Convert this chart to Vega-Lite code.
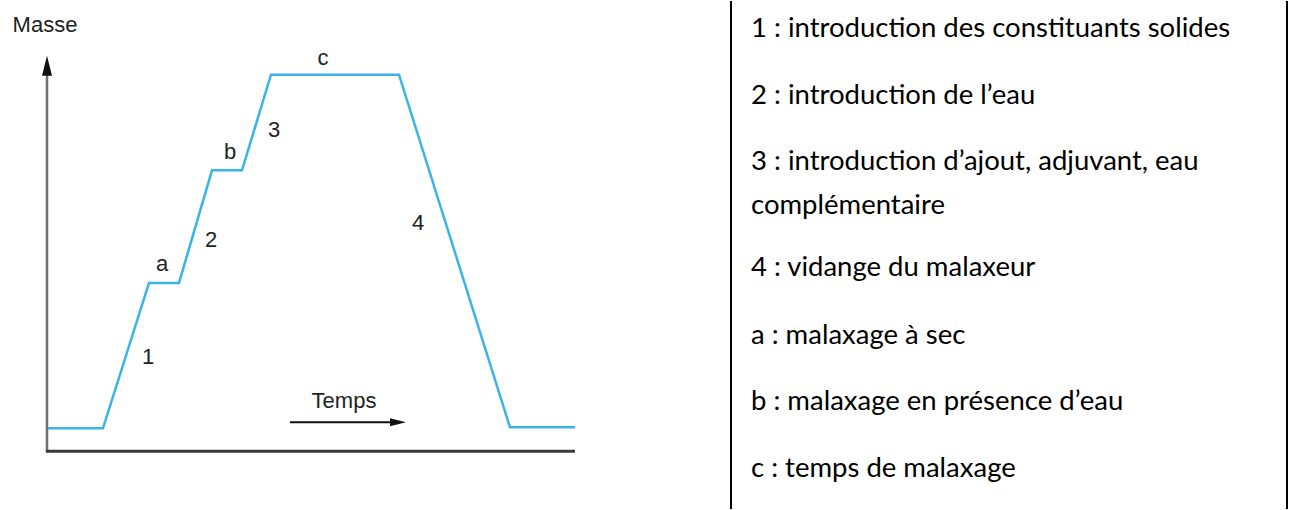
{
  "$schema": "https://vega.github.io/schema/vega-lite/v6.json",
  "autosize": {"type": "fit", "contains": "padding"},
  "width": 1292,
  "height": 510,
  "padding": 0,
  "background": "white",
  "config": {"view": {"stroke": null}},
  "datasets": {
    "courbe": [
      {"temps": 48, "masse": 81},
      {"temps": 103, "masse": 81},
      {"temps": 149, "masse": 227},
      {"temps": 179, "masse": 227},
      {"temps": 212, "masse": 340},
      {"temps": 242, "masse": 340},
      {"temps": 271, "masse": 436},
      {"temps": 399, "masse": 436},
      {"temps": 510, "masse": 82},
      {"temps": 575, "masse": 82}
    ],
    "axes": [
      {"axe": "masse", "t1": 47, "t2": 47, "m1": 57, "m2": 445, "couleur": "#707070", "epaisseur": 2.5},
      {"axe": "temps", "t1": 46, "t2": 575, "m1": 58, "m2": 58, "couleur": "#3a3a3a", "epaisseur": 3},
      {"axe": "fleche", "t1": 290, "t2": 394, "m1": 87, "m2": 87, "couleur": "#111111", "epaisseur": 2},
      {"axe": "cadre gauche", "t1": 731, "t2": 731, "m1": 0, "m2": 510, "couleur": "#000000", "epaisseur": 2},
      {"axe": "cadre droit", "t1": 1287, "t2": 1287, "m1": 0, "m2": 510, "couleur": "#000000", "epaisseur": 2}
    ],
    "pointes": [
      {"pointe": "haut", "temps": 47, "masse": 445},
      {"pointe": "droite", "temps": 398, "masse": 87}
    ],
    "etiquettes": [
      {"texte": "Masse", "temps": 45, "masse": 486},
      {"texte": "Temps", "temps": 344, "masse": 108},
      {"texte": "1", "temps": 148, "masse": 153},
      {"texte": "a", "temps": 162, "masse": 246},
      {"texte": "2", "temps": 211, "masse": 270},
      {"texte": "b", "temps": 230, "masse": 358},
      {"texte": "3", "temps": 274, "masse": 380},
      {"texte": "c", "temps": 323, "masse": 453},
      {"texte": "4", "temps": 418, "masse": 287}
    ],
    "legende": [
      {"ligne": "1 : introduction des constituants solides", "temps": 751, "masse": 482},
      {"ligne": "2 : introduction de l’eau", "temps": 751, "masse": 415},
      {"ligne": "3 : introduction d’ajout, adjuvant, eau", "temps": 751, "masse": 348},
      {"ligne": "complémentaire", "temps": 751, "masse": 304},
      {"ligne": "4 : vidange du malaxeur", "temps": 751, "masse": 242},
      {"ligne": "a : malaxage à sec", "temps": 751, "masse": 174},
      {"ligne": "b : malaxage en présence d’eau", "temps": 751, "masse": 107},
      {"ligne": "c : temps de malaxage", "temps": 751, "masse": 40}
    ]
  },
  "layer": [
    {
      "data": {"name": "axes"},
      "mark": {"type": "rule"},
      "encoding": {
        "x": {"field": "t1", "type": "quantitative", "scale": {"domain": [0, 1292], "nice": false, "zero": false}, "axis": null},
        "x2": {"field": "t2"},
        "y": {"field": "m1", "type": "quantitative", "scale": {"domain": [0, 510], "nice": false, "zero": false}, "axis": null},
        "y2": {"field": "m2"},
        "color": {"field": "couleur", "type": "nominal", "scale": null, "legend": null},
        "strokeWidth": {"field": "epaisseur", "type": "quantitative", "scale": null, "legend": null}
      }
    },
    {
      "data": {"name": "courbe"},
      "mark": {"type": "line", "color": "#38b4e8", "strokeWidth": 2.5, "strokeJoin": "miter"},
      "encoding": {
        "x": {"field": "temps", "type": "quantitative"},
        "y": {"field": "masse", "type": "quantitative"}
      }
    },
    {
      "data": {"name": "pointes"},
      "transform": [{"filter": "datum.pointe === 'haut'"}],
      "mark": {"type": "point", "shape": "M-0.5,1L0.5,1L0,-1Z", "filled": true, "color": "#111111", "size": 400, "opacity": 1},
      "encoding": {
        "x": {"field": "temps", "type": "quantitative"},
        "y": {"field": "masse", "type": "quantitative"}
      }
    },
    {
      "data": {"name": "pointes"},
      "transform": [{"filter": "datum.pointe === 'droite'"}],
      "mark": {"type": "point", "shape": "M-1,-0.5L1,0L-1,0.5Z", "filled": true, "color": "#111111", "size": 256, "opacity": 1},
      "encoding": {
        "x": {"field": "temps", "type": "quantitative"},
        "y": {"field": "masse", "type": "quantitative"}
      }
    },
    {
      "data": {"name": "etiquettes"},
      "mark": {"type": "text", "font": "Liberation Sans", "fontSize": 22, "color": "#222222", "align": "center", "baseline": "middle"},
      "encoding": {
        "x": {"field": "temps", "type": "quantitative"},
        "y": {"field": "masse", "type": "quantitative"},
        "text": {"field": "texte"}
      }
    },
    {
      "data": {"name": "legende"},
      "mark": {"type": "text", "font": "Lato", "fontSize": 27.5, "color": "#000000", "align": "left", "baseline": "middle"},
      "encoding": {
        "x": {"field": "temps", "type": "quantitative"},
        "y": {"field": "masse", "type": "quantitative"},
        "text": {"field": "ligne"}
      }
    }
  ]
}
